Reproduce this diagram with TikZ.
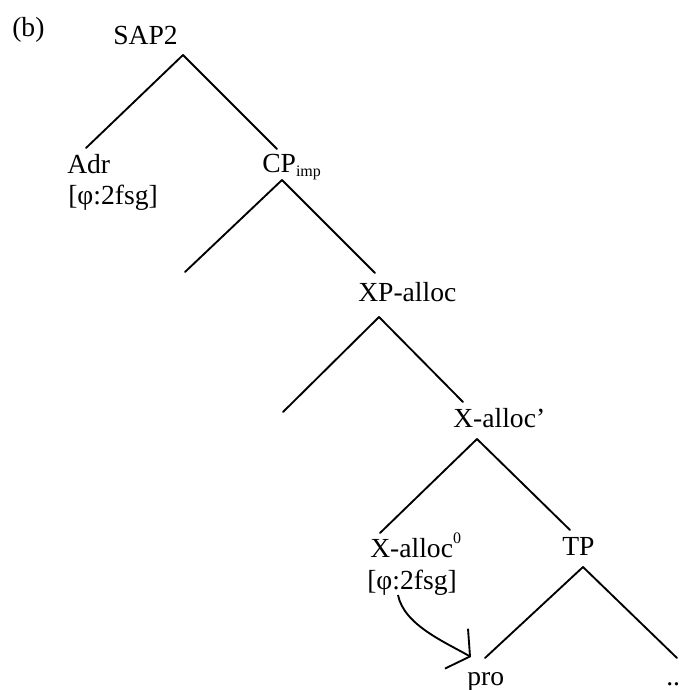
\documentclass[tikz,border=0pt]{standalone}
\usepackage{fontspec}
\setmainfont{Liberation Serif}
\usetikzlibrary{arrows.meta}
\begin{document}
\begin{tikzpicture}[x=0.75pt,y=-0.75pt,
  lbl/.style={inner sep=0pt,anchor=base west,font=\fontsize{20.7}{25}\selectfont},
  branch/.style={line width=1.4pt,line cap=round},
  agree/.style={line width=1.4pt,-{Straight Barb[length=11.7pt,width=34.5pt]}}]
\useasboundingbox (0,0) rectangle (679,690);
\node[lbl] (b) at (12,36) {(b)};
\node[lbl] (sap) at (113,44) {SAP2};
\node[lbl] (adr) at (67,173) {Adr};
\node[lbl] (f1) at (68,204) {[φ:2fsg]};
\node[lbl] (cp) at (262,172) {CP\raisebox{-3pt}{\fontsize{12}{14}\selectfont imp}};
\node[lbl] (xp) at (358,301) {XP-alloc};
\node[lbl] (xb) at (453,427) {X-alloc’};
\node[lbl] (x0) at (370,557) {X-alloc\raisebox{10pt}{\fontsize{12}{14}\selectfont 0}};
\node[lbl] (f2) at (367,589) {[φ:2fsg]};
\node[lbl] (tp) at (562,555) {TP};
\node[lbl] (pro) at (467,685) {pro};
\node[lbl] (dots) at (666,685) {..};
\coordinate (cpL) at (185,272);
\coordinate (xpL) at (283,412);
\draw[branch] ([shift={(70,11)}]sap.base west) -- ([shift={(19,-25)}]adr.base west);
\draw[branch] ([shift={(70,11)}]sap.base west) -- ([shift={(15,-23)}]cp.base west);
\draw[branch] ([shift={(20,8)}]cp.base west) -- (cpL);
\draw[branch] ([shift={(20,8)}]cp.base west) -- ([shift={(17,-28)}]xp.base west);
\draw[branch] ([shift={(21,16)}]xp.base west) -- (xpL);
\draw[branch] ([shift={(21,16)}]xp.base west) -- ([shift={(10,-25)}]xb.base west);
\draw[branch] ([shift={(24,12)}]xb.base west) -- ([shift={(10,-24)}]x0.base west);
\draw[branch] ([shift={(24,12)}]xb.base west) -- ([shift={(8,-25)}]tp.base west);
\draw[branch] ([shift={(21,12)}]tp.base west) -- ([shift={(18,-27)}]pro.base west);
\draw[branch] ([shift={(21,12)}]tp.base west) -- ([shift={(11,-27)}]dots.base west);
\draw[agree] ([shift={(31,6)}]f2.base west) .. controls ([shift={(37,36)}]f2.base west) and ([shift={(-22,-43)}]pro.base west) .. ([shift={(4,-28)}]pro.base west);
\end{tikzpicture}
\end{document}
